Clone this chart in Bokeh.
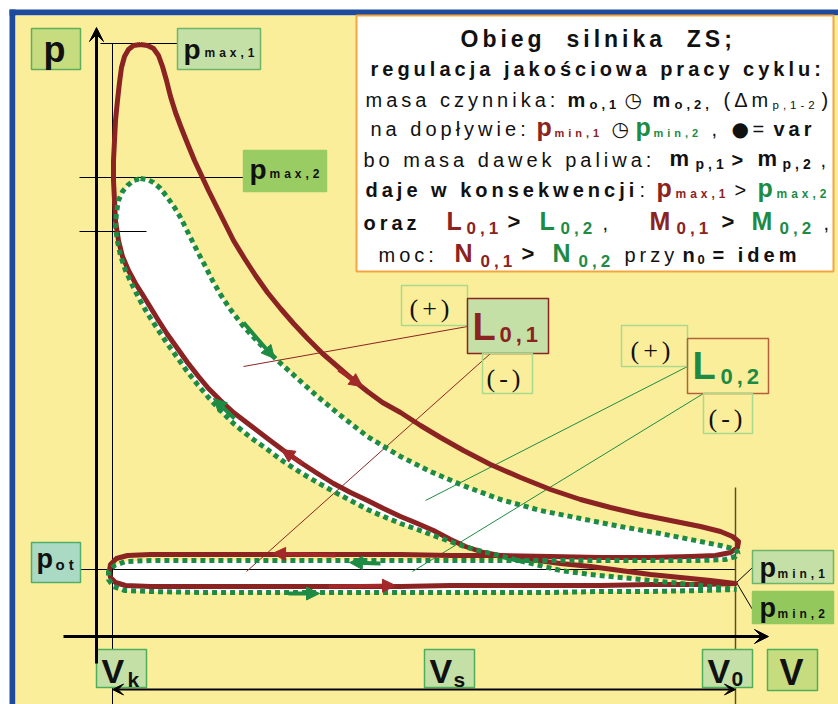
from bokeh.plotting import figure
from bokeh.models import Range1d, Arrow, NormalHead, VeeHead, ColumnDataSource
from bokeh.core.properties import value
from bokeh.embed import file_html
from bokeh.resources import INLINE

# ---------------- data (page-pixel units) ----------------
# cycle 1 (red, solid): expansion -> exhaust -> intake -> compression
RED_V = [140,147,153,158,162,166,170,175,181,187,194,201,208,216,224,233,244,255,267,280,293,307,322,337,352,367,382,400,420,440,463,490,520,550,580,610,640,670,700,720,732,738,
         737,730,715,690,650,600,550,500,450,400,350,300,250,200,150,127,116,110,109,110,115,125,
         150,200,250,300,350,400,450,500,550,600,650,700,735,
         710,680,650,620,590,560,530,505,483,465,450,433,417,400,383,367,350,333,317,300,283,267,250,233,220,208,198,187,177,167,158,150,142,135,128,122,118,115,114,113,113,114,115,117,119,121,124,128,133,140]
RED_P = [44,45,48,55,66,80,96,112,128,143,160,175,190,206,222,240,258,275,292,308,323,338,353,366,379,391,402,412,425,437,450,464,477,489,499,507,514,520,526,531,536,541,
         547,552,555,556,557,557,556,555,555,554,554,554,554,554,554,555,558,564,570,577,582,585,
         586,586,586,586,586,586,585,585,585,585,584,584,583,
         580,577,574,570,566,563,559,556,552,546,539,530,523,516,508,500,492,483,473,462,450,438,425,412,400,388,376,362,348,334,320,307,294,283,270,256,240,220,200,180,160,140,120,100,82,67,56,49,45,44]

# cycle 2 (green, dotted)
GREEN_V = [140,147,153,160,167,174,180,186,192,198,205,212,220,230,243,258,277,297,317,340,367,385,400,430,460,500,540,580,620,660,700,720,732,738,
           735,725,700,650,600,550,500,450,400,350,300,250,200,150,125,114,108,108,113,124,
           150,200,250,300,350,400,450,500,550,600,650,700,736,
           710,680,650,620,590,560,535,510,490,467,450,433,417,400,383,367,350,333,317,300,283,267,250,233,220,208,197,186,176,166,156,147,139,132,125,120,117,115,116,118,122,127,133,140]
GREEN_P = [178,179,182,188,197,207,217,229,241,253,266,280,294,309,326,342,360,378,396,415,436,447,456,471,484,499,510,518,526,533,541,545,548,552,
           556,559,560,560,560,560,560,560,560,560,560,560,560,560,561,565,571,579,586,590,
           591,592,592,592,592,592,592,592,592,591,591,590,589,
           586,583,580,577,574,570,564,558,553,547,541,535,529,523,516,509,500,491,482,472,461,449,437,423,410,397,384,370,356,342,327,313,299,285,270,255,241,227,212,200,191,185,180,178]

# arrows on the curves (tail x, tail y, tip x, tip y)
RED_ARROWS = [(338, 369, 362, 386), (302, 463, 281, 449), (335, 555, 272, 553), (328, 586, 395, 585)]
GREEN_ARROWS = [(243, 322, 274, 358), (234, 418, 213, 398), (380, 563, 349, 562), (288, 593, 319, 593)]

# boxes: left, right, top, bottom, fill, fill alpha, line colour
BOXES = [
    (31, 80, 28, 69, "#C7DC7F", 1, "#5FAE5C"),      # p
    (177, 260, 28, 69, "#C5E0A6", 1, "#6DB56A"),    # pmax,1
    (243, 326, 150, 191, "#99CC63", 1, "#99CC63"),  # pmax,2
    (31, 80, 542, 582, "#AAD9C4", 1, "#4FAE6A"),    # pot
    (752, 833, 550, 583, "#C5E0A6", 1, "#6DB56A"),  # pmin,1
    (752, 833, 591, 623, "#93C95C", 1, "#93C95C"),  # pmin,2
    (96, 146, 649, 687, "#C5E0A6", 1, "#4FAE5A"),   # Vk
    (424, 474, 649, 687, "#C5E0A6", 1, "#4FAE5A"),  # Vs
    (702, 752, 649, 687, "#C5E0A6", 1, "#4FAE5A"),  # V0
    (767, 817, 649, 690, "#C7DC7F", 1, "#4FAE5A"),  # V
    (401, 467, 285, 325, "#FBEE9A", 0, "#A8D98C"),  # (+)
    (467, 548, 298, 353, "#C5E0A6", 1, "#8B2322"),  # L0,1
    (482, 532, 353, 393, "#FBEE9A", 0, "#A8D98C"),  # (-)
    (621, 687, 325, 366, "#FBEE9A", 0, "#A8D98C"),  # (+)
    (687, 768, 338, 393, "#FBEE9A", 0, "#B5603A"),  # L0,2
    (703, 752, 393, 433, "#FBEE9A", 0, "#A8D98C"),  # (-)
]

# thin lines: x0, y0, x1, y1, colour, width
LINES = [
    (100, 43, 177, 43, "black", 1),
    (112, 43, 112, 704, "black", 1),
    (79, 177, 243, 177, "black", 1),
    (79, 231, 146, 231, "black", 1),
    (80, 569, 735, 569, "black", 1),
    (735, 487, 735, 704, "#5C4A2E", 1.5),
    (736, 582, 752, 567, "black", 1),
    (736, 582, 752, 609, "black", 1),
    (243, 366, 467, 326, "#8B2322", 1),
    (490, 353, 246, 571, "#8B2322", 1),
    (687, 366, 425, 500, "#1E8B45", 1),
    (703, 393, 412, 571, "#1E8B45", 1),
]

RED = "#8B2322"
GREEN = "#1E8B45"
BLK = "#111111"
SANS = "Liberation Sans"
SERIF = "Liberation Serif"
SYM = "DejaVu Sans"
NB = "\u00a0"

# text runs: text, x, baseline y, size px, bold, colour, font
TEXTS = [
    ("Obieg" + NB + " silnika" + NB + " ZS;", 460, 45, 23, True, BLK, SANS),
    ("regulacja jakościowa pracy cyklu:", 370, 74, 20, True, BLK, SANS),
    ("masa czynnika:", 365, 105, 20, False, BLK, SANS),
    ("m", 567, 105, 20, True, BLK, SANS),
    ("o,1", 589, 108, 13, True, BLK, SANS),
    ("◷", 624, 105, 20, True, BLK, SYM),
    ("m", 652, 105, 20, True, BLK, SANS),
    ("o,2,", 674, 108, 13, True, BLK, SANS),
    ("(Δm", 723, 105, 20, False, BLK, SANS),
    ("p,1-2", 772, 108, 11.5, False, BLK, SANS),
    (")", 821, 105, 20, False, BLK, SANS),
    ("na dopływie:", 370, 134, 20, False, BLK, SANS),
    ("p", 536, 134, 25, True, RED, SANS),
    ("min,1", 554, 136, 11, True, RED, SANS),
    ("◷", 611, 134, 20, True, BLK, SYM),
    ("p", 635, 134, 25, True, GREEN, SANS),
    ("min,2", 653, 136, 11, True, GREEN, SANS),
    (",", 711, 134, 20, False, BLK, SANS),
    ("●", 731, 134, 20, False, BLK, SYM),
    ("=", 752, 134, 20, False, BLK, SANS),
    ("var", 773, 134, 20, True, BLK, SANS),
    ("bo masa dawek paliwa:", 363, 165, 20, False, BLK, SANS),
    ("m", 669, 165, 22, True, BLK, SANS),
    ("p,1", 695, 168, 14, True, BLK, SANS),
    (">", 731, 165, 20, True, BLK, SANS),
    ("m", 757, 165, 22, True, BLK, SANS),
    ("p,2", 782, 168, 14, True, BLK, SANS),
    (",", 820, 165, 20, False, BLK, SANS),
    ("daje w konsekwencji", 365, 195, 20, True, BLK, SANS),
    (":", 639, 195, 20, False, BLK, SANS),
    ("p", 656, 195, 25, True, RED, SANS),
    ("max,1", 675, 197, 12, True, RED, SANS),
    (">", 734, 195, 20, False, BLK, SANS),
    ("p", 757, 195, 25, True, GREEN, SANS),
    ("max,2", 776, 197, 12, True, GREEN, SANS),
    ("oraz", 363, 228, 20, True, BLK, SANS),
    ("L", 446, 228, 25, True, RED, SANS),
    ("0,1", 466, 233, 17, True, RED, SANS),
    (">", 507, 228, 22, True, BLK, SANS),
    ("L", 539, 228, 25, True, GREEN, SANS),
    ("0,2", 560, 233, 17, True, GREEN, SANS),
    (",", 602, 228, 20, False, BLK, SANS),
    ("M", 649, 228, 25, True, RED, SANS),
    ("0,1", 676, 233, 17, True, RED, SANS),
    (">", 721, 228, 22, True, BLK, SANS),
    ("M", 751, 228, 25, True, GREEN, SANS),
    ("0,2", 779, 233, 17, True, GREEN, SANS),
    (",", 823, 228, 20, False, BLK, SANS),
    ("moc:", 378, 260, 20, False, BLK, SANS),
    ("N", 454, 260, 25, True, RED, SANS),
    ("0,1", 480, 266, 17, True, RED, SANS),
    (">", 521, 260, 22, True, BLK, SANS),
    ("N", 552, 260, 25, True, GREEN, SANS),
    ("0,2", 578, 266, 17, True, GREEN, SANS),
    ("przy", 624, 260, 20, False, BLK, SANS),
    ("n", 682, 260, 20, True, BLK, SANS),
    ("0", 697, 263, 13, True, BLK, SANS),
    ("= idem", 712, 260, 20, True, BLK, SANS),
    # labels on the diagram
    ("p", 43, 60, 36, True, BLK, SANS),
    ("p", 183, 57, 28, True, BLK, SANS),
    ("max,1", 204, 56, 12, True, BLK, SANS),
    ("p", 249, 177, 28, True, BLK, SANS),
    ("max,2", 269, 177, 12, True, BLK, SANS),
    ("p", 36, 567, 27, True, BLK, SANS),
    ("ot", 55, 568, 15, True, BLK, SANS),
    ("p", 759, 576, 27, True, BLK, SANS),
    ("min,1", 777, 577, 12, True, BLK, SANS),
    ("p", 759, 616, 27, True, BLK, SANS),
    ("min,2", 777, 617, 12, True, BLK, SANS),
    ("V", 101, 681, 34, True, BLK, SANS),
    ("k", 127, 685, 21, True, BLK, SANS),
    ("V", 429, 681, 34, True, BLK, SANS),
    ("s", 453, 685, 21, True, BLK, SANS),
    ("V", 707, 681, 34, True, BLK, SANS),
    ("0", 731, 685, 21, True, BLK, SANS),
    ("V", 779, 683, 36, True, BLK, SANS),
    ("(+)", 409, 316, 26, False, BLK, SERIF),
    ("(-)", 486, 386, 26, False, BLK, SERIF),
    ("(+)", 630, 358, 26, False, BLK, SERIF),
    ("(-)", 708, 426, 26, False, BLK, SERIF),
    ("L", 472, 338, 38, True, RED, SANS),
    ("0,1", 499, 341, 22, True, RED, SANS),
    ("L", 692, 377, 38, True, GREEN, SANS),
    ("0,2", 720, 383, 22, True, GREEN, SANS),
]

# ---------------- figure ----------------
p = figure(width=838, height=704, x_range=Range1d(0, 838), y_range=Range1d(704, 0),
           output_backend="svg", toolbar_location=None, min_border=0,
           x_axis_location=None, y_axis_location=None)
p.grid.visible = False
p.outline_line_color = None
p.background_fill_color = "white"
p.border_fill_color = "white"
p.styles = {"letter-spacing": "4px"}

# page frame: blue border and yellow field
p.quad(left=[9, 9], right=[15, 838], top=[9, 9], bottom=[704, 15], fill_color="#1E4B9E", line_color=None)
p.quad(left=[15], right=[838], top=[15], bottom=[704], fill_color="#FBEE9A", line_color=None)

# text box
p.quad(left=[356], right=[833], top=[15], bottom=[271], fill_color="white", line_color="#F4A53F", line_width=2)

# white interior of cycle 2
p.patch(GREEN_V, GREEN_P, fill_color="white", line_color=None)

# thin lines
ls = ColumnDataSource(dict(x0=[l[0] for l in LINES], y0=[l[1] for l in LINES],
                           x1=[l[2] for l in LINES], y1=[l[3] for l in LINES],
                           c=[l[4] for l in LINES], w=[l[5] for l in LINES]))
p.segment("x0", "y0", "x1", "y1", source=ls, line_color="c", line_width="w")

# axes arrows
p.add_layout(Arrow(x_start=96, y_start=663, x_end=96, y_end=27, line_width=3, line_color="black",
                   end=VeeHead(size=14, fill_color="black", line_color="black")))
p.add_layout(Arrow(x_start=63, y_start=636, x_end=768, y_end=636, line_width=3, line_color="black",
                   end=VeeHead(size=14, fill_color="black", line_color="black")))
p.add_layout(Arrow(x_start=112, y_start=689, x_end=735, y_end=689, line_width=2, line_color="black",
                   start=VeeHead(size=11, fill_color="black", line_color="black"),
                   end=VeeHead(size=11, fill_color="black", line_color="black")))

# cycle curves
p.line(RED_V, RED_P, line_color=RED, line_width=5, line_join="round")
p.line(GREEN_V, GREEN_P, line_color=GREEN, line_width=5, line_dash="5 4")

for (x0, y0, x1, y1) in RED_ARROWS:
    p.add_layout(Arrow(x_start=x0, y_start=y0, x_end=x1, y_end=y1, line_width=4, line_color="#A3282A",
                       end=NormalHead(size=13, fill_color="#A3282A", line_color="#A3282A")))
for (x0, y0, x1, y1) in GREEN_ARROWS:
    p.add_layout(Arrow(x_start=x0, y_start=y0, x_end=x1, y_end=y1, line_width=4, line_color=GREEN,
                       end=NormalHead(size=13, fill_color=GREEN, line_color=GREEN)))

# label boxes
bs = ColumnDataSource(dict(l=[b[0] for b in BOXES], r=[b[1] for b in BOXES], t=[b[2] for b in BOXES],
                           b=[b[3] for b in BOXES], f=[b[4] for b in BOXES], a=[b[5] for b in BOXES],
                           lc=[b[6] for b in BOXES]))
p.quad(left="l", right="r", top="t", bottom="b", source=bs, fill_color="f", fill_alpha="a",
       line_color="lc", line_width=1.5)

# texts, grouped by font and weight (baseline raised to compensate the renderer's offset)
BASE_SHIFT = 0.3
groups = {}
for t in TEXTS:
    groups.setdefault((t[6], t[4]), []).append(t)
for (font, bold), items in groups.items():
    src = ColumnDataSource(dict(x=[i[1] for i in items], y=[i[2] - BASE_SHIFT * i[3] for i in items],
                                t=[i[0] for i in items], s=["%spx" % i[3] for i in items],
                                c=[i[5] for i in items]))
    p.text("x", "y", text="t", source=src, text_font=value(font), text_font_size="s",
           text_font_style="bold" if bold else "normal", text_color="c",
           text_baseline="alphabetic", text_align="left")

open("out.html", "w").write(file_html(p, INLINE))
